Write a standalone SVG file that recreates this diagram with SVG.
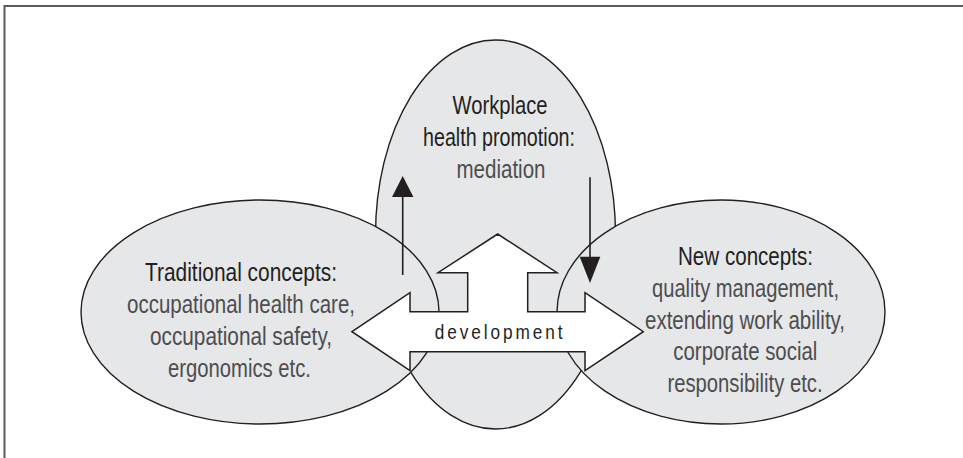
<svg xmlns="http://www.w3.org/2000/svg" width="963" height="458" viewBox="0 0 963 458">
<style>
.bubble{fill:#e6e7e8;stroke:#231f20;stroke-width:1.4}
.h{font-family:"Liberation Sans",Arial,sans-serif;font-size:25px;fill:#231f20;text-anchor:middle}
.b{font-family:"Liberation Sans",Arial,sans-serif;font-size:25px;fill:#4d4d4f;text-anchor:middle}
.line{stroke:#231f20;stroke-width:1.6;fill:none}
.head{fill:#231f20;stroke:none}
</style>
<rect x="0" y="0" width="963" height="458" fill="#ffffff"/>
<path d="M4.5,460 V6 H965" fill="none" stroke="#5a5a5a" stroke-width="2"/>
<g id="workplace-health-promotion">
<ellipse class="bubble" cx="495.5" cy="234.5" rx="120" ry="194.5"/>
<text class="h" x="500" y="114" textLength="95" lengthAdjust="spacingAndGlyphs">Workplace</text>
<text class="h" x="499" y="146" textLength="152" lengthAdjust="spacingAndGlyphs">health promotion:</text>
<text class="b" x="501" y="178" textLength="89" lengthAdjust="spacingAndGlyphs">mediation</text>
</g>
<g id="traditional-concepts">
<ellipse class="bubble" cx="260" cy="312" rx="179" ry="112"/>
<text class="h" x="241" y="281" textLength="192" lengthAdjust="spacingAndGlyphs">Traditional concepts:</text>
<text class="b" x="241" y="313" textLength="228" lengthAdjust="spacingAndGlyphs">occupational health care,</text>
<text class="b" x="241" y="345" textLength="182" lengthAdjust="spacingAndGlyphs">occupational safety,</text>
<text class="b" x="239.5" y="377" textLength="143" lengthAdjust="spacingAndGlyphs">ergonomics etc.</text>
</g>
<g id="new-concepts">
<ellipse class="bubble" cx="721" cy="312" rx="164" ry="112"/>
<text class="h" x="745.5" y="265" textLength="135" lengthAdjust="spacingAndGlyphs">New concepts:</text>
<text class="b" x="745.5" y="297" textLength="187" lengthAdjust="spacingAndGlyphs">quality management,</text>
<text class="b" x="745" y="328.5" textLength="200" lengthAdjust="spacingAndGlyphs">extending work ability,</text>
<text class="b" x="745.3" y="360" textLength="144" lengthAdjust="spacingAndGlyphs">corporate social</text>
<text class="b" x="745" y="392" textLength="155" lengthAdjust="spacingAndGlyphs">responsibility etc.</text>
</g>
<g id="development">
<polygon points="352,331.7 410,292.7 410,311.7 467.7,311.7 467.7,272.7 438,272.7 497.7,234 557,272.7 527.7,272.7 527.7,311.7 585,311.7 585,292.7 643.3,331.7 585,370.7 585,351.7 410,351.7 410,370.7" fill="#ffffff" stroke="#231f20" stroke-width="1.5" stroke-linejoin="miter"/>
<text transform="translate(498.7,338.5) scale(0.82,1)" x="0" y="0" font-family="&quot;Liberation Sans&quot;,Arial,sans-serif" font-size="21" fill="#231f20" text-anchor="middle" textLength="155.7" lengthAdjust="spacing">development</text>
</g>
<g id="connectors">
<line class="line" x1="402.7" y1="275" x2="402.7" y2="196"/>
<polygon class="head" points="392,197 402.7,176 413.4,197"/>
<line class="line" x1="590" y1="177.3" x2="590" y2="258"/>
<polygon class="head" points="579.7,256.7 590,283 600.3,256.7"/>
</g>
</svg>
